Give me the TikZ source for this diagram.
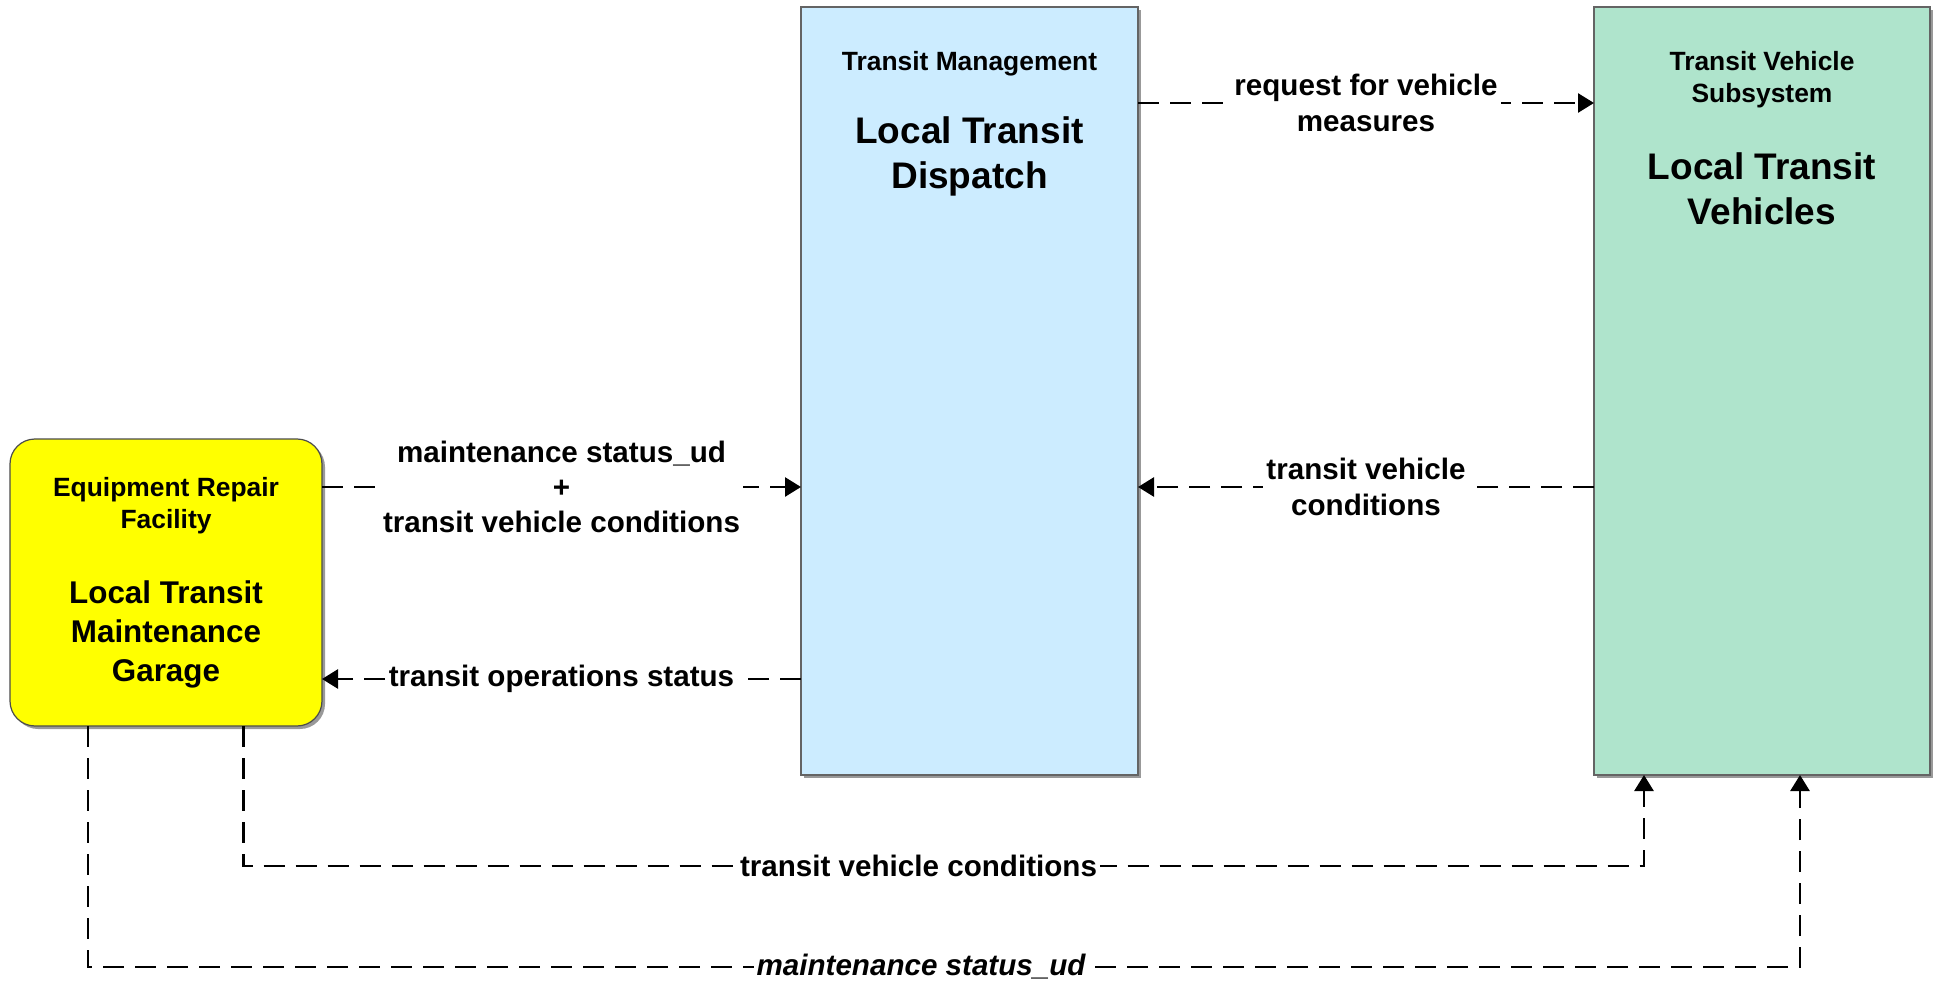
\documentclass[tikz,border=0pt]{standalone}
\usepackage{fontspec}
\setmainfont{Liberation Sans}
\usetikzlibrary{arrows.meta}
\definecolor{garageyellow}{RGB}{255,255,0}
\definecolor{dispatchblue}{RGB}{204,236,255}
\definecolor{vehiclegreen}{RGB}{175,228,204}
\definecolor{boxborder}{RGB}{100,100,100}
\begin{document}
\begin{tikzpicture}[x=0.5pt,y=-0.5pt,
  entity/.style={draw=boxborder, line width=0.6pt, inner sep=0pt, outer sep=0pt},
  smalltitle/.style={font=\fontsize{13.2}{16}\selectfont\bfseries, align=center, inner sep=0pt},
  bigtitle/.style={font=\fontsize{18.5}{22.5}\selectfont\bfseries, align=center, inner sep=0pt},
  midtitle/.style={font=\fontsize{15.7}{19.5}\selectfont\bfseries, align=center, inner sep=0pt},
  flow/.style={line width=1.35pt, dash pattern=on 10.5pt off 5.5pt, -{Triangle[length=8pt,width=9.5pt]}},
  flowlabel/.style={font=\fontsize{14.8}{17.7}\selectfont\bfseries, align=center, fill=white, inner sep=1.5pt}
]
\useasboundingbox (0,0) rectangle (1939,984);

% shadows
\fill[black!40] (804,10) rectangle (1141,778);
\fill[black!40] (1597,10) rectangle (1933,778);
\fill[black!40, rounded corners=12.5pt] (13,442) rectangle (325,729);

% boxes
\node[entity, fill=garageyellow, draw=black!70, rounded corners=12.5pt, minimum width=156pt, minimum height=143.5pt] (garage) at (166,582.5) {};
\node[entity, fill=dispatchblue, minimum width=168.5pt, minimum height=384pt] (dispatch) at (969.5,391) {};
\node[entity, fill=vehiclegreen, minimum width=168pt, minimum height=384pt] (vehicles) at (1762,391) {};

% box texts
\node[smalltitle] (garagecat) at (166,505.5) {Equipment Repair\\Facility};
\node[midtitle] (garagename) at (166,634) {Local Transit\\Maintenance\\Garage};
\node[smalltitle] (dispatchcat) at (969.5,64) {Transit Management};
\node[bigtitle] (dispatchname) at (969.5,156.5) {Local Transit\\Dispatch};
\node[smalltitle] (vehiclecat) at (1762,80) {Transit Vehicle\\Subsystem};
\node[bigtitle] (vehiclename) at (1762,189) {Local Transit\\Vehicles};

% helper coordinates
\coordinate (yreq) at (0,103);
\coordinate (ymid) at (0,487);
\coordinate (yops) at (0,679);
\coordinate (c5a) at (243.5,866);
\coordinate (c5b) at (1644,866);
\coordinate (c6a) at (88,967);
\coordinate (c6b) at (1800,967);

% flows
\draw[flow] (dispatch.east |- yreq) -- node[flowlabel] (lreq) {request for vehicle\\measures} (vehicles.west |- yreq);
\draw[flow] (garage.east |- ymid) -- node[flowlabel] (lmaint) {maintenance status\_ud\\+\\transit vehicle conditions} (dispatch.west |- ymid);
\draw[flow] (vehicles.west |- ymid) -- node[flowlabel] (ltvc) {transit vehicle\\conditions} (dispatch.east |- ymid);
\draw[flow] (dispatch.west |- yops) -- node[flowlabel] (lops) {transit operations status} (garage.east |- yops);
\draw[flow] (garage.south -| c5a) -- (c5a) -- node[flowlabel, pos=0.482] (lbottom1) {transit vehicle conditions} (c5b) -- (vehicles.south -| c5b);
\draw[flow] (garage.south -| c6a) -- (c6a) -- node[flowlabel, pos=0.4866, font=\fontsize{14.8}{17.7}\selectfont\bfseries\itshape] (lbottom2) {maintenance status\_ud} (c6b) -- (vehicles.south -| c6b);
\end{tikzpicture}
\end{document}
